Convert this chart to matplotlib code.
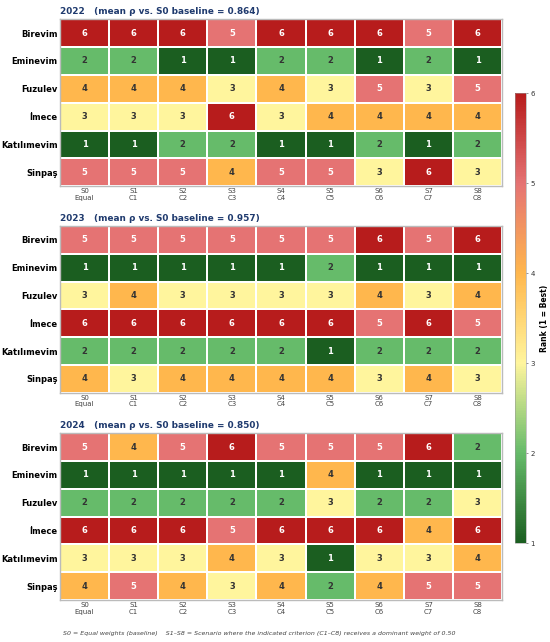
import numpy as np
import matplotlib
matplotlib.use("Agg")
import matplotlib.pyplot as plt
from matplotlib.colors import LinearSegmentedColormap

firms = ["Birevim", "Eminevim", "Fuzulev", "İmece", "Katılımevim", "Sinpaş"]
scenarios = ["S0\nEqual", "S1\nC1", "S2\nC2", "S3\nC3", "S4\nC4",
             "S5\nC5", "S6\nC6", "S7\nC7", "S8\nC8"]
years = ["2022", "2023", "2024"]
mean_rho = [0.864, 0.957, 0.850]

ranks_2022 = [
    [6, 6, 6, 5, 6, 6, 6, 5, 6],
    [2, 2, 1, 1, 2, 2, 1, 2, 1],
    [4, 4, 4, 3, 4, 3, 5, 3, 5],
    [3, 3, 3, 6, 3, 4, 4, 4, 4],
    [1, 1, 2, 2, 1, 1, 2, 1, 2],
    [5, 5, 5, 4, 5, 5, 3, 6, 3],
]
ranks_2023 = [
    [5, 5, 5, 5, 5, 5, 6, 5, 6],
    [1, 1, 1, 1, 1, 2, 1, 1, 1],
    [3, 4, 3, 3, 3, 3, 4, 3, 4],
    [6, 6, 6, 6, 6, 6, 5, 6, 5],
    [2, 2, 2, 2, 2, 1, 2, 2, 2],
    [4, 3, 4, 4, 4, 4, 3, 4, 3],
]
ranks_2024 = [
    [5, 4, 5, 6, 5, 5, 5, 6, 2],
    [1, 1, 1, 1, 1, 4, 1, 1, 1],
    [2, 2, 2, 2, 2, 3, 2, 2, 3],
    [6, 6, 6, 5, 6, 6, 6, 4, 6],
    [3, 3, 3, 4, 3, 1, 3, 3, 4],
    [4, 5, 4, 3, 4, 2, 4, 5, 5],
]
all_ranks = [ranks_2022, ranks_2023, ranks_2024]

cmap = LinearSegmentedColormap.from_list(
    "rank", ["#1b5e20", "#66bb6a", "#fff59d", "#ffb74d", "#e57373", "#b71c1c"])

fig = plt.figure(figsize=(11, 12.84), dpi=50)

boxes = [
    [0.109, 0.710, 0.804, 0.260],
    [0.109, 0.388, 0.804, 0.260],
    [0.109, 0.0654, 0.804, 0.260],
]

for year, rho, ranks, box in zip(years, mean_rho, all_ranks, boxes):
    ax = fig.add_axes(box)
    data = np.array(ranks)
    mesh = ax.pcolormesh(data, cmap=cmap, vmin=1, vmax=6,
                         edgecolors="white", linewidth=2.5)
    ax.set_xlim(0, data.shape[1])
    ax.set_ylim(data.shape[0], 0)
    for i in range(data.shape[0]):
        for j in range(data.shape[1]):
            v = data[i, j]
            col = "white" if v in (1, 5, 6) else "#333333"
            ax.text(j + 0.5, i + 0.5, str(v), ha="center", va="center",
                    fontsize=12, fontweight="bold", color=col)
    ax.set_xticks(np.arange(data.shape[1]) + 0.5)
    ax.set_xticklabels(scenarios, fontsize=10, color="#444444", linespacing=1.1)
    ax.set_yticks(np.arange(data.shape[0]) + 0.5)
    ax.set_yticklabels(firms, fontsize=12, fontweight="bold")
    ax.tick_params(length=0, pad=3)
    for s in ax.spines.values():
        s.set_color("#bbbbbb")
        s.set_linewidth(2)
    ax.set_title(f"{year}   (mean ρ vs. S0 baseline = {rho:.3f})",
                 loc="left", fontsize=12.8, fontweight="bold",
                 color="#1f3a6e", pad=7)

cax = fig.add_axes([0.936, 0.154, 0.02, 0.701])
cb = fig.colorbar(mesh, cax=cax, ticks=[1, 2, 3, 4, 5, 6])
cb.outline.set_edgecolor("#999999")
cb.ax.tick_params(labelsize=10, colors="#444444", length=3)
cb.ax.tick_params(axis="y", labelcolor="#333333")
cb.set_label("Rank (1 = Best)", fontsize=11, fontweight="bold", labelpad=8)

fig.text(0.471, 0.014,
         "S0 = Equal weights (baseline)    S1–S8 = Scenario where the indicated "
         "criterion (C1–C8) receives a dominant weight of 0.50",
         ha="center", va="center", fontsize=9, style="italic", color="#444444")

fig.savefig("out.png", dpi=50, facecolor="white")
